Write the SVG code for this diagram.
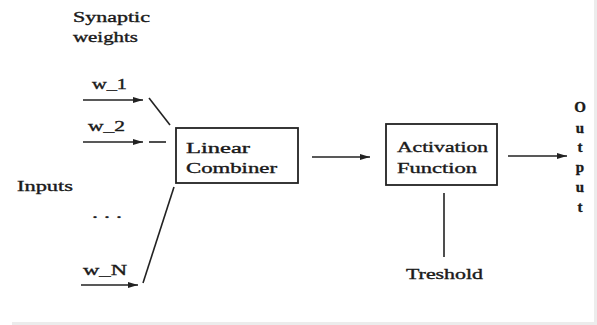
<svg xmlns="http://www.w3.org/2000/svg" width="597" height="325" viewBox="0 0 597 325">
<style>
text{font-family:"Liberation Serif","Times New Roman",serif;font-size:14px;fill:#1a1a1a;stroke:#1a1a1a;stroke-width:0.35}
.ol{font-size:15px;font-weight:bold}
.ln{stroke:#222;stroke-width:1.6;fill:none}
.box{stroke:#222;stroke-width:1.8;fill:#fff}
</style>
<defs>
<marker id="ah" viewBox="0 0 10 6" refX="10" refY="3" markerWidth="10" markerHeight="6" markerUnits="userSpaceOnUse" orient="auto">
<path d="M0,0 L10,3 L0,6 z" fill="#222"/>
</marker>
</defs>
<rect x="0" y="0" width="597" height="325" fill="#fff"/>
<rect x="594" y="0" width="3" height="325" fill="#ececec"/>
<rect x="12" y="322" width="585" height="3" fill="#ececec"/>

<g id="labels">
<text x="73" y="22" textLength="77" lengthAdjust="spacingAndGlyphs">Synaptic</text>
<text x="73" y="42" textLength="65" lengthAdjust="spacingAndGlyphs">weights</text>
<text x="17" y="191" textLength="56" lengthAdjust="spacingAndGlyphs">Inputs</text>
<text x="92" y="218" textLength="30" lengthAdjust="spacingAndGlyphs">. . .</text>
<text x="92" y="89" textLength="35" lengthAdjust="spacingAndGlyphs">w_1</text>
<text x="88" y="131" textLength="37" lengthAdjust="spacingAndGlyphs">w_2</text>
<text x="83" y="275" textLength="44" lengthAdjust="spacingAndGlyphs">w_N</text>
</g>

<g id="linear-combiner">
<rect class="box" x="176" y="128" width="122" height="55"/>
<text x="186" y="153" textLength="64" lengthAdjust="spacingAndGlyphs">Linear</text>
<text x="186" y="173" textLength="91" lengthAdjust="spacingAndGlyphs">Combiner</text>
</g>

<g id="activation-function">
<rect class="box" x="386" y="124" width="111" height="61"/>
<text x="397" y="152" textLength="91" lengthAdjust="spacingAndGlyphs">Activation</text>
<text x="397" y="173" textLength="80" lengthAdjust="spacingAndGlyphs">Function</text>
</g>

<g id="threshold">
<text x="406" y="279" textLength="77" lengthAdjust="spacingAndGlyphs">Treshold</text>
</g>

<g id="output" text-anchor="middle">
<text class="ol" x="580" y="112">O</text>
<text class="ol" x="580" y="133">u</text>
<text class="ol" x="580" y="152">t</text>
<text class="ol" x="580" y="172">p</text>
<text class="ol" x="580" y="192">u</text>
<text class="ol" x="580" y="212">t</text>
</g>

<g id="connectors">
<line class="ln" x1="83" y1="100" x2="143" y2="100" marker-end="url(#ah)"/>
<line class="ln" x1="149" y1="98" x2="170" y2="125"/>
<line class="ln" x1="83" y1="142" x2="143" y2="142" marker-end="url(#ah)"/>
<line class="ln" x1="149" y1="142" x2="166" y2="142"/>
<line class="ln" x1="81" y1="285" x2="138" y2="285" marker-end="url(#ah)"/>
<line class="ln" x1="143" y1="283" x2="174" y2="187"/>
<line class="ln" x1="312" y1="157" x2="370" y2="157" marker-end="url(#ah)"/>
<line class="ln" x1="508" y1="156" x2="567" y2="156" marker-end="url(#ah)"/>
<line class="ln" x1="444" y1="193" x2="444" y2="257"/>
</g>
</svg>
